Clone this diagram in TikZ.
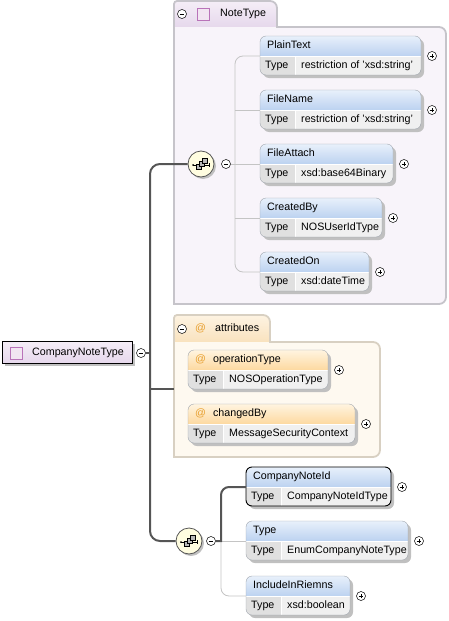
\documentclass[tikz,border=0pt]{standalone}
\usepackage{fontspec}
\setmainfont{Liberation Sans}
\usetikzlibrary{shadows}

\definecolor{notefill}{HTML}{F8F4FA}
\definecolor{notetabtop}{HTML}{F5EEF7}
\definecolor{notetabbot}{HTML}{E6D8EC}
\definecolor{noteline}{HTML}{C6C4CA}
\definecolor{attrfill}{HTML}{FEF9F0}
\definecolor{attrtabtop}{HTML}{FDF3E2}
\definecolor{attrtabbot}{HTML}{F9E2BE}
\definecolor{attrline}{HTML}{D8D0C2}
\definecolor{headtop}{HTML}{E8F0FB}
\definecolor{headbot}{HTML}{BCD2F0}
\definecolor{atheadtop}{HTML}{FFF4E0}
\definecolor{atheadbot}{HTML}{FDD9A0}
\definecolor{rowc}{HTML}{F0F0F0}
\definecolor{typec}{HTML}{E0E0E0}
\definecolor{elemline}{HTML}{A0A6AE}
\definecolor{shadowc}{HTML}{C0C0C0}
\definecolor{atc}{HTML}{E8A030}
\definecolor{treec}{HTML}{C4C4C4}
\definecolor{mainc}{HTML}{555555}

\tikzset{
  elemtext/.style={anchor=west, inner sep=0pt, text height=7.5pt, text depth=2pt},
  elemhead/.style={top color=headtop, bottom color=headbot},
  attrhead/.style={top color=atheadtop, bottom color=atheadbot},
  elemborder/.style={draw=elemline},
  selborder/.style={draw=black, line width=0.9pt},
  togglec/.style={circle, draw=black, fill=white, inner sep=0pt, minimum size=9pt, line width=0.5pt},
  minusc/.style={togglec, path picture={\draw ([xshift=-2.3pt]path picture bounding box.center) -- ++(4.6pt,0);}},
  plusc/.style={togglec, path picture={\draw ([xshift=-2.3pt]path picture bounding box.center) -- ++(4.6pt,0);
      \draw ([yshift=-2.3pt]path picture bounding box.center) -- ++(0,4.6pt);}},
  seqc/.style={circle, draw=mainc, line width=0.8pt, fill=yellow!12, minimum size=26pt, inner sep=0pt,
      drop shadow={shadow xshift=2pt, shadow yshift=-2pt, fill=shadowc, opacity=1},
      path picture={
        \draw[black, line width=0.6pt] ([xshift=-8pt,yshift=-1pt]path picture bounding box.center) -- ++(16pt,0);
        \fill[black] ([xshift=-8pt,yshift=-1pt]path picture bounding box.center) circle (1pt);
        \draw[black, line width=0.6pt] ([xshift=8pt,yshift=-3pt]path picture bounding box.center) -- ++(0,4pt);
        \filldraw[fill=gray!55, draw=black, line width=0.5pt] ([xshift=-5pt,yshift=-5pt]path picture bounding box.center) rectangle ++(5pt,5pt);
        \filldraw[fill=gray!55, draw=black, line width=0.5pt] ([xshift=-2pt,yshift=-2pt]path picture bounding box.center) rectangle ++(5pt,5pt);
        \filldraw[fill=gray!55, draw=black, line width=0.5pt] ([xshift=1pt,yshift=1pt]path picture bounding box.center) rectangle ++(5pt,5pt);}},
  rootbox/.style={draw=black, line width=0.8pt, top color=notetabtop, bottom color=notetabbot,
      minimum width=130pt, minimum height=22pt, anchor=north west, inner sep=0pt,
      drop shadow={shadow xshift=3pt, shadow yshift=-3pt, fill=shadowc, opacity=1}},
  typeicon/.style={draw=violet!55, fill=violet!10, minimum size=12pt, inner sep=0pt, line width=0.8pt},
  grpline/.style={line width=1.8pt},
  mainline/.style={draw=mainc, line width=2pt},
  treeline/.style={draw=treec, line width=0.8pt},
}

% element box: name, x, y, width, title, type, head style, border style
\newcommand{\xsdelem}[8]{%
  \fill[shadowc, rounded corners=6] (#2+3,#3+3) rectangle (#2+#4+3,#3+42);
  \begin{scope}
    \clip[rounded corners=6] (#2,#3) rectangle (#2+#4,#3+39);
    \shade[#7] (#2,#3) rectangle (#2+#4,#3+20);
    \fill[rowc] (#2,#3+20) rectangle (#2+#4,#3+39);
    \fill[typec] (#2,#3+20) rectangle (#2+35,#3+39);
  \end{scope}
  \draw[white, line width=1pt] (#2+35,#3+20) -- (#2+35,#3+39);
  \draw[white, line width=1pt] (#2,#3+20.5) -- (#2+#4,#3+20.5);
  \draw[#8, rounded corners=6] (#2,#3) rectangle (#2+#4,#3+39);
  \node[elemtext] (#1) at (#2+7,#3+10) {#5};
  \node[elemtext] at (#2+5,#3+29.5) {Type};
  \node[elemtext] at (#2+41,#3+29.5) {#6};
  \coordinate (#1-in) at (#2,#3+20);
  \node[plusc] (#1-plus) at (#2+#4+11,#3+20) {};
}
\newcommand{\at}{\textcolor{atc}{@}}

\begin{document}
\begin{tikzpicture}[x=1pt, y=-1pt, font=\fontsize{10.7}{12}\selectfont]
  \useasboundingbox (0,0) rectangle (448,621);

  % NoteType group
  \shade[top color=notetabtop, bottom color=notetabbot] (174,27) [rounded corners=3] -- (174,1) [rounded corners=7] -- (277,1) [sharp corners] -- (277,27) -- cycle;
  \fill[notefill] (174,27) [rounded corners=7] -- (446,27) -- (446,304) [sharp corners] -- (174,304) -- cycle;
  \draw[noteline, grpline] (174,304) [rounded corners=3] -- (174,1) [rounded corners=7] -- (277,1) [sharp corners] -- (277,27) [rounded corners=7] -- (446,27) -- (446,304) [sharp corners] -- cycle;
  \node[minusc] (notetype-minus) at (182,14) {};
  \node[typeicon] (notetype-icon) at (203.5,14.5) {};
  \node[elemtext] (notetype) at (220,14) {NoteType};

  % attributes group
  \shade[top color=attrtabtop, bottom color=attrtabbot] (174,342) [rounded corners=3] -- (174,315) [rounded corners=7] -- (270,315) [sharp corners] -- (270,342) -- cycle;
  \fill[attrfill] (174,342) [rounded corners=7] -- (380,342) -- (380,457) [sharp corners] -- (174,457) -- cycle;
  \draw[attrline, grpline] (174,457) [rounded corners=3] -- (174,315) [rounded corners=7] -- (270,315) [sharp corners] -- (270,342) [rounded corners=7] -- (380,342) -- (380,457) [sharp corners] -- cycle;
  \node[minusc] (attrs-minus) at (182,329) {};
  \node[elemtext] (attrs-at) at (195,329) {\at};
  \node[elemtext] (attrs) at (215,329) {attributes};
  \coordinate (attrs-in) at (174,389);

  % elements
  \xsdelem{plaintext}{260}{36}{161}{PlainText}{restriction of 'xsd:string'}{elemhead}{elemborder}
  \xsdelem{filename}{260}{90}{161}{FileName}{restriction of 'xsd:string'}{elemhead}{elemborder}
  \xsdelem{fileattach}{260}{144}{133}{FileAttach}{xsd:base64Binary}{elemhead}{elemborder}
  \xsdelem{createdby}{260}{198}{122}{CreatedBy}{NOSUserIdType}{elemhead}{elemborder}
  \xsdelem{createdon}{260}{252}{109}{CreatedOn}{xsd:dateTime}{elemhead}{elemborder}
  \xsdelem{optype}{188}{350}{140}{\at\hspace{7pt}operationType}{NOSOperationType}{attrhead}{elemborder}
  \xsdelem{changedby}{188}{404}{167}{\at\hspace{7pt}changedBy}{MessageSecurityContext}{attrhead}{elemborder}
  \xsdelem{noteid}{246}{467}{145}{CompanyNoteId}{CompanyNoteIdType}{elemhead}{selborder}
  \xsdelem{typeelem}{246}{521}{162}{Type}{EnumCompanyNoteType}{elemhead}{elemborder}
  \xsdelem{includeinriemns}{246}{576}{104}{IncludeInRiemns}{xsd:boolean}{elemhead}{elemborder}

  % root
  \node[rootbox] (cnt) at (2,341) {};
  \node[typeicon] (cnt-icon) at (16,353) {};
  \node[elemtext] (cnt-label) at (32,353) {CompanyNoteType};
  \node[minusc] (cnt-minus) at (141,353) {};
  \coordinate (bus) at (150,353);

  % sequences
  \node[seqc] (seq1) at (201,164) {};
  \node[minusc] (seq1-minus) at (226,164) {};
  \coordinate (seq1-bus) at (235,164);
  \node[seqc] (seq2) at (189,541) {};
  \node[minusc] (seq2-minus) at (211,541) {};
  \coordinate (seq2-bus) at (221,541);

  % connectors
  \draw[mainline] (cnt-minus) -- (bus);
  \draw[mainline, rounded corners=10] (seq1) -| (bus) |- (seq2);
  \draw[mainline] (bus |- attrs-in) -- (attrs-in);
  \draw[treeline] (seq1-minus) -- (fileattach-in);
  \draw[treeline, rounded corners=8] (plaintext-in) -| (seq1-bus) |- (createdon-in);
  \draw[treeline] (seq1-bus |- filename-in) -- (filename-in);
  \draw[treeline] (seq1-bus |- createdby-in) -- (createdby-in);
  \draw[treeline] (seq2-minus) -- (typeelem-in);
  \draw[treeline, rounded corners=8] (seq2-bus) |- (includeinriemns-in);
  \draw[mainline] (seq2-minus) -- (seq2-bus) [rounded corners=8] |- (noteid-in);
\end{tikzpicture}
\end{document}
